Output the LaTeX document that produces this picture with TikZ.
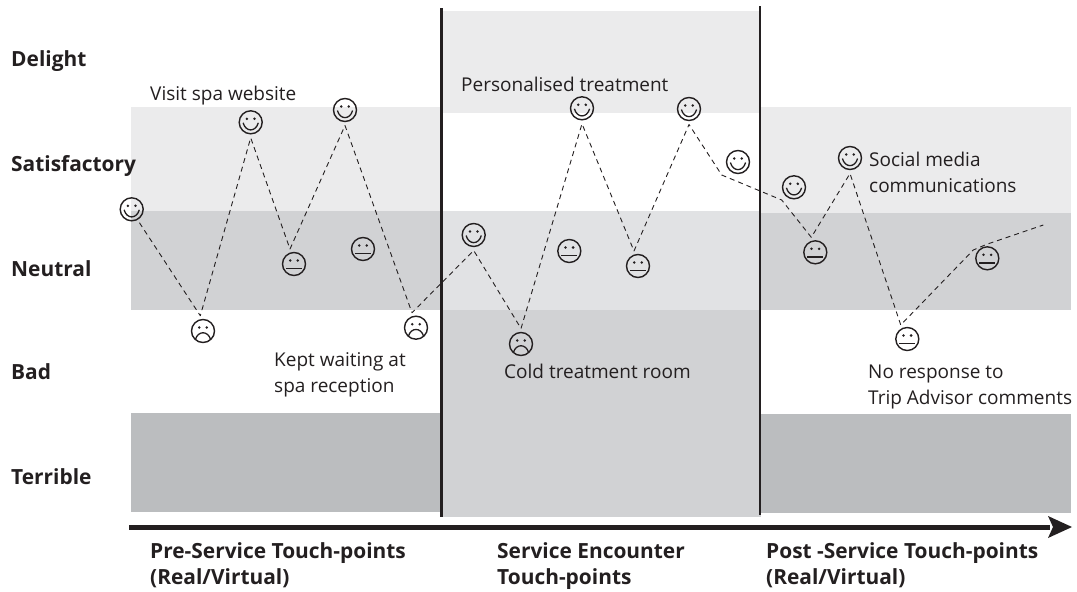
\documentclass[tikz,border=0pt]{standalone}
\usepackage{fontspec}
\setmainfont{Open Sans}
\definecolor{ink}{HTML}{231F20}
\definecolor{bandA}{HTML}{EBEBEC}
\definecolor{bandB}{HTML}{D1D2D4}
\definecolor{bandC}{HTML}{BBBDBF}
\definecolor{bandD}{HTML}{E1E2E4}
\tikzset{
  face/.style={circle,draw=ink,line width=1.4pt,fill=none,minimum size=23pt,inner sep=0pt,outer sep=4pt},
  happy/.style={face,path picture={
    \fill[ink] (-3.8,-3.5) circle[radius=1.4] (3.8,-3.5) circle[radius=1.4];
    \draw[ink,line width=1.3pt] (-7.6,0.5) .. controls (-5,10) and (5,10) .. (7.6,0.5);}},
  neutral/.style={face,path picture={
    \fill[ink] (-3.8,-3.5) circle[radius=1.4] (3.8,-3.5) circle[radius=1.4];
    \draw[ink,line width=1.1pt] (-8,4.7) -- (8,4.7);}},
  sad/.style={face,path picture={
    \fill[ink] (-3.8,-3.5) circle[radius=1.4] (3.8,-3.5) circle[radius=1.4];
    \draw[ink,line width=1.3pt] (-7.6,8.5) .. controls (-5,-0.5) and (5,-0.5) .. (7.6,8.5);}},
  journey/.style={draw=ink,line width=0.9pt,dash pattern=on 5pt off 4pt,line join=round},
  divider/.style={draw=ink,line width=2.4pt},
  lvl/.style={anchor=base west,font=\fontsize{20.9}{24}\selectfont\bfseries,text=ink,inner sep=0pt},
  note/.style={anchor=base west,font=\fontsize{19}{26}\selectfont,text=ink,inner sep=0pt,align=left},
  stage/.style={anchor=base west,font=\fontsize{20.9}{26}\selectfont\bfseries,text=ink,inner sep=0pt,align=left},
}
\begin{document}
\begin{tikzpicture}[x=1pt,y=-1pt]
\useasboundingbox (0,0) rectangle (1077,592);
% bands
\fill[bandA] (131,107) rectangle (441,211);
\fill[bandB] (131,211) rectangle (441,310);
\fill[bandC] (131,413) rectangle (441,512);
\fill[bandA] (761,107) rectangle (1071,213);
\fill[bandB] (761,213) rectangle (1071,310);
\fill[bandC] (761,414) rectangle (1071,513);
\fill[bandA] (441,11) rectangle (761,113);
\fill[bandD] (441,211) rectangle (761,310);
\fill[bandB] (441,310) rectangle (761,517);
% dividers
\coordinate (d1a) at (441.5,8); \coordinate (d1b) at (441.5,517);
\coordinate (d2a) at (760,6); \coordinate (d2b) at (760,515);
\draw[divider] (d1a) -- (d1b);
\draw[divider] (d2a) -- (d2b);
% time arrow
\coordinate (t0) at (129,527); \coordinate (t1) at (1050,527); \coordinate (tip) at (1072,527);
\draw[ink,line width=5pt] (t0) -- (t1);
\fill[ink] (1048,516) -- (tip) -- (1048,538) -- (1053,527) -- cycle;
% faces
\node[happy] (f1) at (131.7,209.3) {};
\node[sad] (f2) at (203,331) {};
\node[happy] (f3) at (250.7,122.3) {};
\node[neutral] (f4) at (294,264) {};
\node[happy] (f5) at (345,110) {};
\node[neutral] (f6) at (363,249) {};
\node[sad] (f7) at (416,327.7) {};
\node[happy] (f8) at (473.7,235) {};
\node[neutral] (f9) at (569.3,251) {};
\node[sad] (f10) at (521,344) {};
\node[happy] (f11) at (582,108.3) {};
\node[neutral] (f12) at (638,266) {};
\node[happy] (f13) at (689,109) {};
\node[happy] (f14) at (738,162) {};
\node[happy] (f15) at (794,187.3) {};
\node[neutral] (f16) at (815.3,252.3) {};
\node[happy] (f17) at (850,158) {};
\node[neutral] (f18) at (907.3,339) {};
\node[neutral] (f19) at (987.3,258.3) {};
% journey
\coordinate (c1) at (721.7,175);
\coordinate (c2) at (781.7,200);
\coordinate (c3) at (973.3,250);
\coordinate (c4) at (986.7,244.3);
\coordinate (c5) at (1043.3,225);
\draw[journey] (f1.-60) -- (f2.100) -- (f3.south) -- (f4.105) -- (f5.south) -- (f7.105) -- (f8.south)
  -- (f10.north) -- (f11.south) -- (f12.105) -- (f13.south) -- (c1)
  -- (c2) -- (f16.105) -- (f17.south) -- (f18.115) -- (c3) -- (c4) -- (c5);
% level labels
\node[lvl] (l1) at (11,66) {Delight};
\node[lvl] (l2) at (11,171) {Satisfactory};
\node[lvl] (l3) at (11,276) {Neutral};
\node[lvl] (l4) at (11,379) {Bad};
\node[lvl] (l5) at (11,484) {Terrible};
% notes
\node[note] (n1) at (150,100) {Visit spa website};
\node[note] (n2) at (461,91) {Personalised treatment};
\node[note,anchor=north west] (n3) at (869,152) {Social media\\communications};
\node[note,anchor=north west] (n4) at (868,364.5) {No response to\\Trip Advisor comments};
\node[note,anchor=north west] (n5) at (274,352) {Kept waiting at\\spa reception};
\node[note] (n6) at (504,378) {Cold treatment room};
% stages
\node[stage,anchor=north west] (s1) at (150,542) {Pre-Service Touch-points\\(Real/Virtual)};
\node[stage,anchor=north west] (s2) at (497,542) {Service Encounter\\Touch-points};
\node[stage,anchor=north west] (s3) at (766,542) {Post -Service Touch-points\\(Real/Virtual)};
\end{tikzpicture}
\end{document}
